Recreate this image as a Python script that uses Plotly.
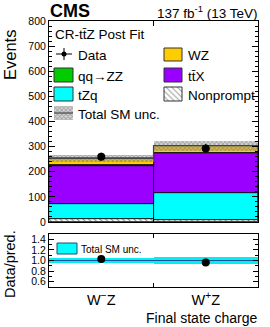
import plotly.graph_objects as go
import numpy as np

# ---------------- data ----------------
categories = ["W<sup>\u2212</sup>Z", "W<sup>+</sup>Z"]
process_names = ["Nonprompt", "tZq", "tt\u0304X", "qq\u2192ZZ", "WZ"]
nonprompt = [10, 9]
tzq = [60, 105]
ttx = [153, 160]
qqzz = [2, 2]
wz = [28, 28]
total_unc = [14, 20]
data = [260, 293]
data_err = [16, 17]

main_yticks = [0, 100, 200, 300, 400, 500, 600, 700, 800]
ratio_yticks = [0.6, 0.8, 1.0, 1.2, 1.4]

# ---------------- layout helpers ----------------
W, H = 270, 327
L, R, T, B = 49, 258, 21, 287   # plot area in pixels


def PX(px):
    return (px - L) / (R - L)


def PY(py):
    return (B - py) / (B - T)


FONT = "Liberation Sans, Arial, Helvetica, sans-serif"

xc = np.array([0.5, 1.5])
stack = [nonprompt, tzq, ttx, qqzz, wz]
colors = ["white", "#00ffff", "#9900ff", "#00cc00", "#ffcc00"]
total = np.sum(np.array(stack, dtype=float), axis=0)
unc = np.array(total_unc, dtype=float)
dat = np.array(data, dtype=float)
derr = np.array(data_err, dtype=float)

UNC_PATTERN = dict(shape="x", fgcolor="rgba(90,90,90,0.9)", bgcolor="rgba(170,170,170,0.45)",
                   size=3, solidity=0.5)

fig = go.Figure()

base = np.zeros(2)
for i, vals in enumerate(stack):
    v = np.array(vals, dtype=float)
    marker = dict(color=colors[i], line=dict(color="black", width=0.8))
    if i == 0:
        marker["pattern"] = dict(shape="\\", fgcolor="black", bgcolor="white", size=4, solidity=0.25)
    fig.add_trace(go.Bar(x=xc, y=v, base=base, width=1.0, marker=marker, name=process_names[i],
                         xaxis="x", yaxis="y", showlegend=False, hoverinfo="skip"))
    base = base + v

# total uncertainty band
fig.add_trace(go.Bar(x=xc, y=2 * unc, base=total - unc, width=1.0,
                     marker=dict(color="rgba(0,0,0,0)", line=dict(width=0), pattern=UNC_PATTERN),
                     xaxis="x", yaxis="y", showlegend=False, hoverinfo="skip"))
# total line
fig.add_trace(go.Scatter(x=[0, 1, 1, 2], y=[total[0], total[0], total[1], total[1]],
                         mode="lines", line=dict(color="#444444", width=1.2),
                         xaxis="x", yaxis="y", showlegend=False, hoverinfo="skip"))
# data
fig.add_trace(go.Scatter(x=xc, y=dat, mode="markers",
                         marker=dict(color="black", size=8),
                         error_y=dict(type="data", array=derr, color="black", width=0, thickness=1),
                         xaxis="x", yaxis="y", showlegend=False, hoverinfo="skip"))

# ---------------- ratio ----------------
runc = unc / total
fig.add_trace(go.Bar(x=xc, y=2 * runc, base=1 - runc, width=1.0,
                     marker=dict(color="#00f0f0", line=dict(width=0)),
                     xaxis="x2", yaxis="y2", showlegend=False, hoverinfo="skip"))
fig.add_trace(go.Scatter(x=[0, 2], y=[1, 1], mode="lines", line=dict(color="#1f4f9f", width=1.2),
                         xaxis="x2", yaxis="y2", showlegend=False, hoverinfo="skip"))
fig.add_trace(go.Scatter(x=xc, y=dat / total, mode="markers",
                         marker=dict(color="black", size=8),
                         error_y=dict(type="data", array=derr / total, color="black", width=0, thickness=1),
                         xaxis="x2", yaxis="y2", showlegend=False, hoverinfo="skip"))

# ---------------- legend swatches (overlay axes in pixel units) ----------------
def box(x0, y0, x1, y1, fill, pattern=None, line="#333333"):
    kw = dict(x=[x0, x1, x1, x0, x0], y=[y0, y0, y1, y1, y0], mode="lines", fill="toself",
              fillcolor=fill, line=dict(color=line, width=1),
              xaxis="x3", yaxis="y3", showlegend=False, hoverinfo="skip")
    if pattern is not None:
        kw["fillpattern"] = pattern
    fig.add_trace(go.Scatter(**kw))


# left column boxes
box(54, 68, 73, 82, "#00cc00")
box(54, 87, 73, 101, "#00ffff")
box(54, 106, 73, 120, "rgba(170,170,170,0.45)", pattern=UNC_PATTERN, line="rgba(0,0,0,0)")
fig.add_trace(go.Scatter(x=[54, 73], y=[113, 113], mode="lines", line=dict(color="#444444", width=1.2),
                         xaxis="x3", yaxis="y3", showlegend=False, hoverinfo="skip"))
# right column boxes
box(164, 48, 182, 61, "#ffcc00")
box(164, 68, 182, 82, "#9900ff")
box(164, 87, 182, 101, "white",
    pattern=dict(shape="\\", fgcolor="#333333", bgcolor="white", size=4, solidity=0.25))
# data symbol
fig.add_trace(go.Scatter(x=[56, 72], y=[54, 54], mode="lines", line=dict(color="black", width=1),
                         xaxis="x3", yaxis="y3", showlegend=False, hoverinfo="skip"))
fig.add_trace(go.Scatter(x=[64, 64], y=[48, 60], mode="lines", line=dict(color="black", width=1),
                         xaxis="x3", yaxis="y3", showlegend=False, hoverinfo="skip"))
fig.add_trace(go.Scatter(x=[64], y=[54], mode="markers", marker=dict(color="black", size=5),
                         xaxis="x3", yaxis="y3", showlegend=False, hoverinfo="skip"))
# ratio legend box
box(57, 243, 77, 254, "#00ffff", line="#1f4f6f")

# ---------------- annotations ----------------
ann = []


def text(px, py, s, size, xanchor="left", yanchor="middle", bold=False, angle=0):
    ann.append(dict(x=PX(px), y=PY(py), xref="paper", yref="paper", text=("<b>%s</b>" % s) if bold else s,
                    showarrow=False, xanchor=xanchor, yanchor=yanchor, textangle=angle,
                    font=dict(family=FONT, size=size, color="black")))


text(48, 11, "CMS", 18, bold=True)
text(259, 12, "137 fb<sup>-1</sup> (13 TeV)", 13.5, xanchor="right")
text(53, 34, "CR-tt\u0304Z Post Fit", 13.5)
text(76, 55, "Data", 13.5)
text(186, 55, process_names[4], 13.5)
text(76, 76, process_names[3], 13.5)
text(186, 76, process_names[2], 13.5)
text(76, 95, process_names[1], 13.5)
text(186, 95, process_names[0], 13.5)
text(76, 114, "Total SM unc.", 13.5)
text(79, 249, "Total SM unc.", 10)
text(10, 28, "Events", 16.5, xanchor="center", yanchor="top", angle=-90)
text(10, 264, "Data/pred.", 14.5, xanchor="center", yanchor="middle", angle=-90)
text(259, 318, "Final state charge", 14, xanchor="right")

axis_common = dict(showline=True, linecolor="black", linewidth=1, mirror="ticks", ticks="inside",
                   tickcolor="black", showgrid=False, zeroline=False,
                   tickfont=dict(family=FONT, size=10.5, color="black"))
axis_nofont = {k: v for k, v in axis_common.items() if k != "tickfont"}

fig.update_layout(
    width=W, height=H,
    margin=dict(l=L, r=W - R, t=T, b=H - B, pad=0, autoexpand=False),
    paper_bgcolor="white", plot_bgcolor="rgba(0,0,0,0)",
    barmode="overlay", bargap=0,
    font=dict(family=FONT, color="black"),
    annotations=ann,
    xaxis=dict(domain=[0, 1], range=[0, 2], anchor="y", showticklabels=False,
               tickvals=[1], ticklen=5, **axis_nofont),
    yaxis=dict(domain=[PY(222), 1], range=[0, 800], anchor="x", tickvals=main_yticks, ticklen=6,
               minor=dict(dtick=20, ticklen=3, ticks="inside", tickcolor="black"), **axis_common),
    xaxis2=dict(domain=[0, 1], range=[0, 2], anchor="y2", tickvals=list(xc), ticktext=categories,
                ticklen=0, minor=dict(tickvals=[1], ticklen=4, ticks="inside", tickcolor="black"),
                tickfont=dict(family=FONT, size=14.5, color="black"), **axis_nofont),
    yaxis2=dict(domain=[0, PY(234)], range=[0.5, 1.5], anchor="x2", tickvals=ratio_yticks,
                tickformat=".1f", ticklen=5,
                minor=dict(dtick=0.1, ticklen=3, ticks="inside", tickcolor="black"), **axis_common),
    xaxis3=dict(domain=[0, 1], range=[L, R], anchor="y3", visible=False, fixedrange=True),
    yaxis3=dict(domain=[0, 1], range=[B, T], anchor="x3", visible=False, fixedrange=True),
)

fig.write_html("out.html", config={"displayModeBar": False},
               post_script="document.body.style.margin='0px';document.body.style.padding='0px';")
